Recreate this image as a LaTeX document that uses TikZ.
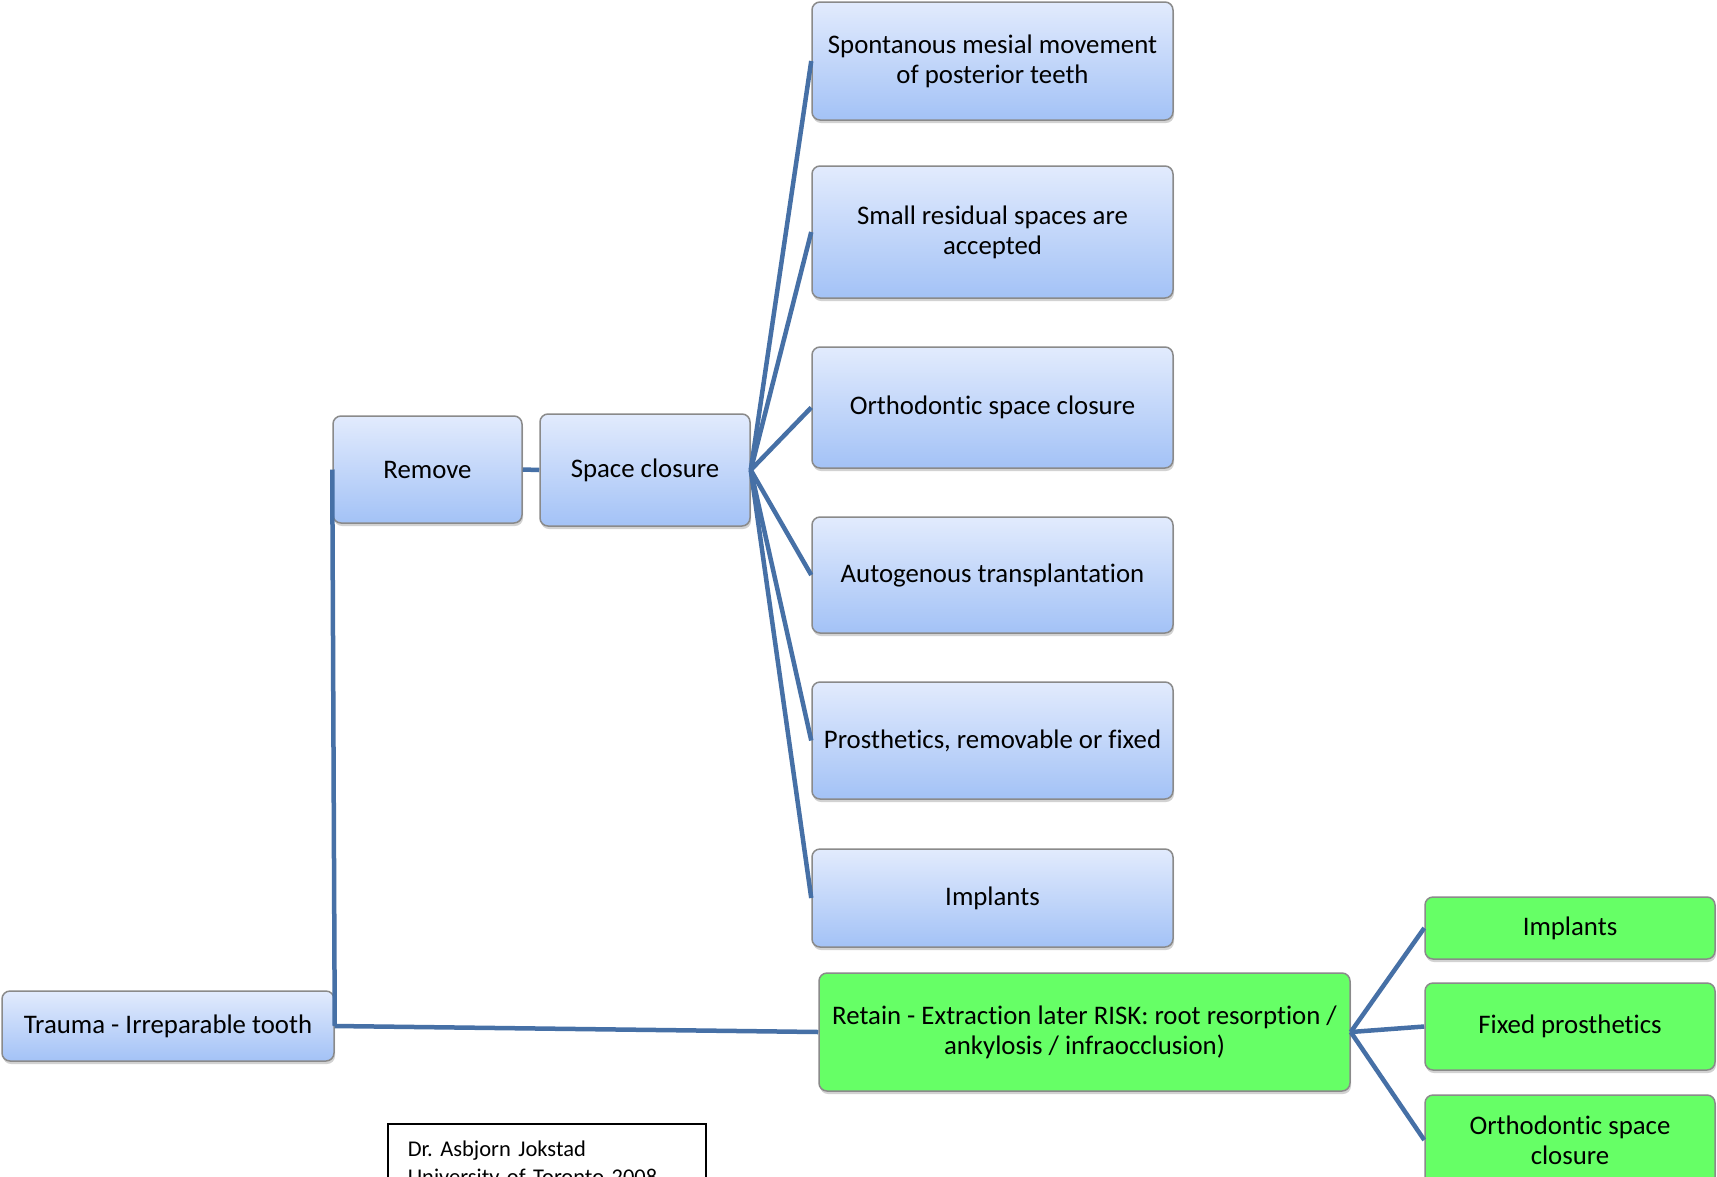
\documentclass[tikz,border=0pt]{standalone}
\usepackage{fontspec}
\setmainfont{Carlito}[RawFeature={-liga}]
\usetikzlibrary{shadows}
\definecolor{conn}{HTML}{4670A6}
\definecolor{btop}{HTML}{E2EBFD}
\definecolor{bbot}{HTML}{A3C2F6}
\definecolor{bord}{HTML}{8A8A8A}
\definecolor{gfill}{HTML}{66FF66}
\tikzset{
  bluebox/.style={draw=bord, line width=1.5pt, rounded corners=8pt, top color=btop, bottom color=bbot,
    align=center, inner sep=2pt, font=\fontsize{26.8}{30}\selectfont,
    drop shadow={opacity=0.35, shadow xshift=1pt, shadow yshift=-3pt}},
  greenbox/.style={draw=bord, line width=1.5pt, rounded corners=8pt, fill=gfill,
    align=center, inner sep=2pt, font=\fontsize{26.8}{30}\selectfont,
    drop shadow={opacity=0.35, shadow xshift=1pt, shadow yshift=-3pt}},
  conline/.style={draw=conn, line width=4.5pt},
}
\frenchspacing
\begin{document}
\begin{tikzpicture}[x=1pt,y=-1pt]
\useasboundingbox[fill=white] (0,0) rectangle (1717,1176);
% right column blue boxes
\node[bluebox, minimum width=361pt, minimum height=118pt] (sp) at (992.5,61) {Spontanous mesial movement\\of posterior teeth};
\node[bluebox, minimum width=361pt, minimum height=132pt] (sm) at (992.5,232) {Small residual spaces are\\accepted};
\node[bluebox, minimum width=361pt, minimum height=121pt] (orc) at (992.5,407.5) {Orthodontic space closure};
\node[bluebox, minimum width=361pt, minimum height=116pt] (au) at (992.5,575) {Autogenous transplantation};
\node[bluebox, minimum width=361pt, minimum height=117pt] (pr) at (992.5,740.5) {Prosthetics, removable or fixed};
\node[bluebox, minimum width=361pt, minimum height=98pt] (im) at (992.5,898) {Implants};
% left part
\node[bluebox, minimum width=189pt, minimum height=107pt] (rem) at (427.5,469.5) {Remove};
\node[bluebox, minimum width=210pt, minimum height=112pt] (spc) at (645,470) {Space closure};
\node[bluebox, minimum width=332pt, minimum height=70pt] (tr) at (168,1026) {Trauma - Irreparable tooth};
% green boxes
\node[greenbox, minimum width=531pt, minimum height=118pt] (ret) at (1084.5,1032) {Retain - Extraction later RISK: root resorption /\\ankylosis / infraocclusion)};
\node[greenbox, minimum width=290pt, minimum height=62pt] (gim) at (1570,928) {Implants};
\node[greenbox, minimum width=290pt, minimum height=87pt] (gfx) at (1570,1026.5) {Fixed prosthetics};
\node[greenbox, minimum width=290pt, minimum height=90pt] (gor) at (1570,1140) {Orthodontic space\\closure};
% author box
\node[draw=black, line width=1.5pt, anchor=north west, minimum width=318pt, text width=278pt, align=left,
  inner xsep=20pt, inner ysep=17pt, font=\fontsize{22.5}{28}\selectfont] (dr) at (387,1123)
  {Dr. Asbjorn Jokstad\\University of Toronto 2008};
% connectors
\draw[conline] (rem.west) -- (tr.east);
\draw[conline] (tr.east) -- (ret.west);
\draw[conline] (rem.east) -- (spc.west);
\foreach \t in {sp,sm,orc,au,pr,im}{
  \draw[conline] (spc.east) -- (\t.west);
}
\foreach \t in {gim,gfx,gor}{
  \draw[conline] (ret.east) -- (\t.west);
}
\end{tikzpicture}
\end{document}
